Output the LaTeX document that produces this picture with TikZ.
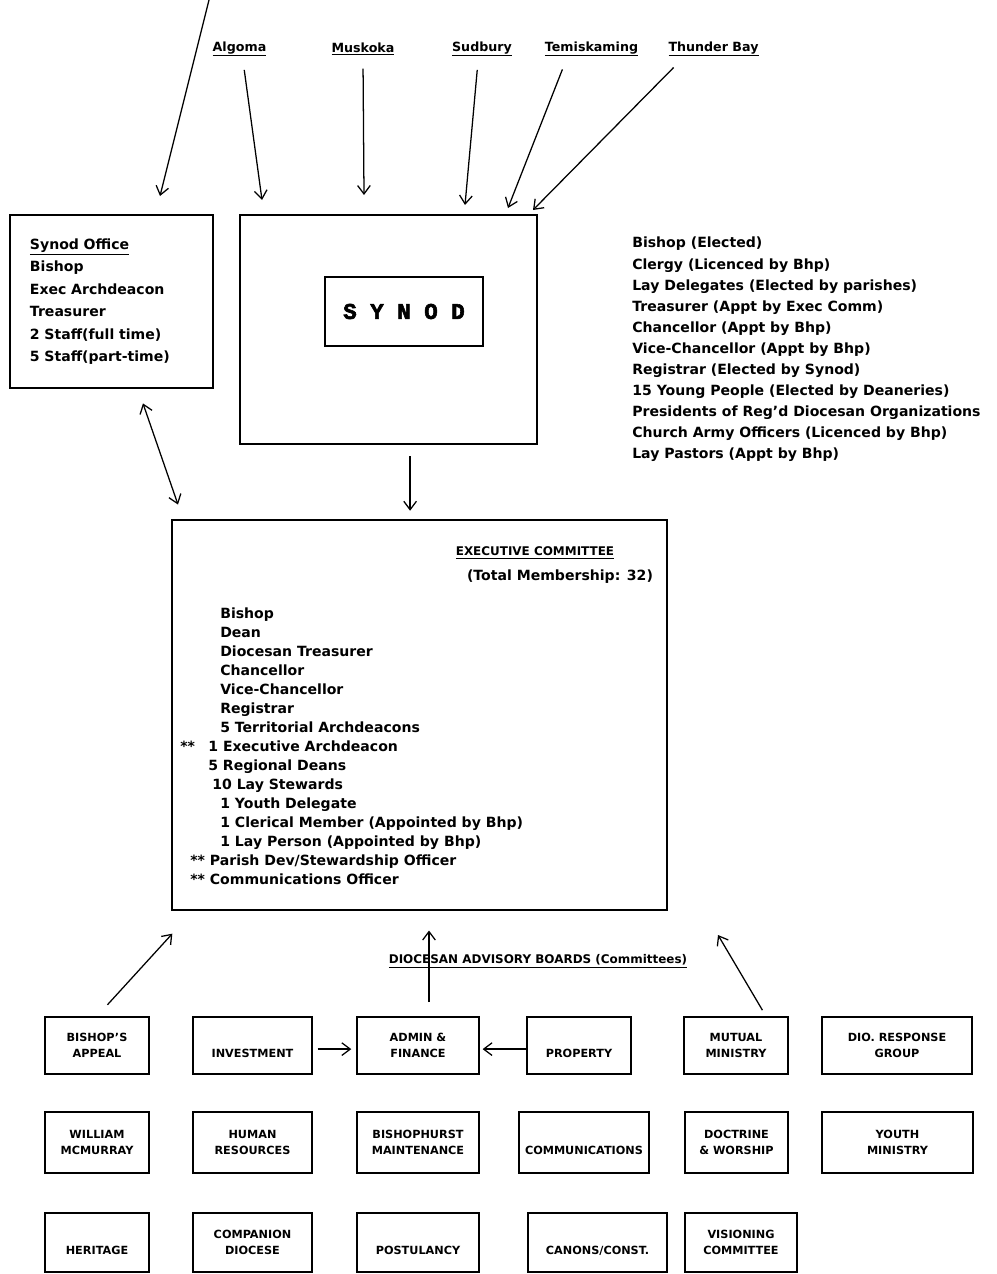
\documentclass[tikz,border=0pt]{standalone}
\usepackage{fontspec}
\setmainfont{DejaVu Sans}
\newfontfamily\synodfont{Liberation Mono}[BoldFeatures={FakeBold=2.5}]
\usetikzlibrary{arrows.meta,positioning,calc}

\tikzset{
  arr/.style={-{Straight Barb[length=6pt,width=9pt]}, line width=0.9pt},
  dblarr/.style={{Straight Barb[length=6pt,width=9pt]}-{Straight Barb[length=6pt,width=9pt]}, line width=0.9pt},
  bigbox/.style={draw, line width=1.1pt, inner sep=0pt},
  board/.style={draw, line width=1.1pt, align=center, inner sep=2pt,
    font=\fontsize{8}{11.5}\selectfont\bfseries},
  lowtext/.style={text height=17.5pt, text depth=0pt},
  deanery/.style={font=\fontsize{9}{11}\selectfont\bfseries}
}

\begin{document}
\begin{tikzpicture}[x=0.025cm, y=-0.025cm, font=\bfseries]
  \useasboundingbox (0,0) rectangle (996,1274);

  % Deaneries along the top
  \node[deanery] (algoma) at (239.5,49) {\underline{Algoma}};
  \node[deanery] (muskoka) at (363,49) {\underline{Muskoka}};
  \node[deanery] (sudbury) at (482,49) {\underline{Sudbury}};
  \node[deanery] (temiskaming) at (591.5,49) {\underline{Temiskaming}};
  \node[deanery] (thunderbay) at (713.5,49) {\underline{Thunder Bay}};

  % Synod office
  \node[bigbox, minimum height=4.325cm, text width=4.075cm, inner xsep=0.5cm, align=left,
    font=\fontsize{10}{16}\selectfont\bfseries] (office) at (111.5,301.5)
    {\underline{Synod Office}\\Bishop\\Exec Archdeacon\\Treasurer\\2 Staff(full time)\\5 Staff(part-time)};

  % Synod
  \node[bigbox, minimum width=7.425cm, minimum height=5.725cm] (synod) at (388.5,329.5) {};
  \node[bigbox, minimum width=3.95cm, minimum height=1.725cm,
    font=\synodfont\fontsize{16}{18}\selectfont\bfseries] (synodname) at (404,311.5) {S Y N O D};

  \node[anchor=north west, align=left, inner sep=0pt,
    font=\fontsize{10}{15}\selectfont\bfseries] (synodmembers) at (632,237)
    {Bishop (Elected)\\
     Clergy (Licenced by Bhp)\\
     Lay Delegates (Elected by parishes)\\
     Treasurer (Appt by Exec Comm)\\
     Chancellor (Appt by Bhp)\\
     Vice-Chancellor (Appt by Bhp)\\
     Registrar (Elected by Synod)\\
     15 Young People (Elected by Deaneries)\\
     Presidents of Reg'd Diocesan Organizations\\
     Church Army Officers (Licenced by Bhp)\\
     Lay Pastors (Appt by Bhp)};

  % Executive committee
  \node[bigbox, minimum width=12.375cm, minimum height=9.75cm] (exec) at (419.5,715) {};
  \node[font=\fontsize{8.5}{10}\selectfont\bfseries] (exectitle) at (535,553) {\underline{EXECUTIVE COMMITTEE}};
  \node[font=\fontsize{10}{12}\selectfont\bfseries] (execsize) at (560,577) {(Total Membership: 32)};
  \node[anchor=north west, align=left, inner sep=0pt,
    font=\fontsize{10}{13.5}\selectfont\bfseries] (execlist) at (180,608)
    {\hspace*{1cm}Bishop\\
     \hspace*{1cm}Dean\\
     \hspace*{1cm}Diocesan Treasurer\\
     \hspace*{1cm}Chancellor\\
     \hspace*{1cm}Vice-Chancellor\\
     \hspace*{1cm}Registrar\\
     \hspace*{1cm}5 Territorial Archdeacons\\
     **\hspace{0.6em} 1 Executive Archdeacon\\
     \hspace*{0.7cm}5 Regional Deans\\
     \hspace*{0.8cm}10 Lay Stewards\\
     \hspace*{1cm}1 Youth Delegate\\
     \hspace*{1cm}1 Clerical Member (Appointed by Bhp)\\
     \hspace*{1cm}1 Lay Person (Appointed by Bhp)\\
     \hspace*{0.25cm}** Parish Dev/Stewardship Officer\\
     \hspace*{0.25cm}** Communications Officer};

  \node[font=\fontsize{8.5}{10}\selectfont\bfseries] (boardstitle) at (538,961)
    {\underline{DIOCESAN ADVISORY BOARDS (Committees)}};

  % Boards, row 1
  \node[board, minimum width=2.6cm, minimum height=1.425cm] (appeal) at (97,1045.5) {BISHOP'S\\APPEAL};
  \node[board, lowtext, minimum width=2.975cm, minimum height=1.425cm] (investment) at (252.5,1045.5) {INVESTMENT};
  \node[board, minimum width=3.05cm, minimum height=1.425cm] (admin) at (418,1045.5) {ADMIN \&\\FINANCE};
  \node[board, lowtext, minimum width=2.6cm, minimum height=1.425cm] (property) at (579,1045.5) {PROPERTY};
  \node[board, minimum width=2.6cm, minimum height=1.425cm] (mutual) at (736,1045.5) {MUTUAL\\MINISTRY};
  \node[board, minimum width=3.75cm, minimum height=1.425cm] (response) at (897,1045.5) {DIO. RESPONSE\\GROUP};

  % Boards, row 2
  \node[board, minimum width=2.6cm, minimum height=1.525cm] (mcmurray) at (97,1142.5) {WILLIAM\\MCMURRAY};
  \node[board, minimum width=2.975cm, minimum height=1.525cm] (human) at (252.5,1142.5) {HUMAN\\RESOURCES};
  \node[board, minimum width=3.05cm, minimum height=1.525cm] (bishophurst) at (418,1142.5) {BISHOPHURST\\MAINTENANCE};
  \node[board, lowtext, minimum width=3.25cm, minimum height=1.525cm] (comms) at (584,1142.5) {COMMUNICATIONS};
  \node[board, minimum width=2.575cm, minimum height=1.525cm] (doctrine) at (736.5,1142.5) {DOCTRINE\\\& WORSHIP};
  \node[board, minimum width=3.775cm, minimum height=1.525cm] (youth) at (897.5,1142.5) {YOUTH\\MINISTRY};

  % Boards, row 3
  \node[board, lowtext, minimum width=2.6cm, minimum height=1.475cm] (heritage) at (97,1242.5) {HERITAGE};
  \node[board, minimum width=2.975cm, minimum height=1.475cm] (companion) at (252.5,1242.5) {COMPANION\\DIOCESE};
  \node[board, lowtext, minimum width=3.05cm, minimum height=1.475cm] (postulancy) at (418,1242.5) {POSTULANCY};
  \node[board, lowtext, minimum width=3.475cm, minimum height=1.475cm] (canons) at (597.5,1242.5) {CANONS/CONST.};
  \node[board, minimum width=2.8cm, minimum height=1.475cm] (visioning) at (741,1242.5) {VISIONING\\COMMITTEE};

  % free ends
  \coordinate (offpage) at (209,0);
  \coordinate (office-in) at (160,196);
  \coordinate (alg-in) at (262,200);
  \coordinate (mus-in) at (364,195);
  \coordinate (sud-in) at (465,205);
  \coordinate (tem-in) at (508,208);
  \coordinate (thb-in) at (533,210);
  \coordinate (mutual-up) at (718,935);

  % connectors
  \draw[arr] (offpage) -- (office-in);
  \draw[arr, shorten <=6pt] ([xshift=0.09cm]algoma.south) -- (alg-in);
  \draw[arr, shorten <=6pt] (muskoka.south) -- (mus-in);
  \draw[arr, shorten <=6pt] ([xshift=-0.1cm]sudbury.south) -- (sud-in);
  \draw[arr, shorten <=6pt] ([xshift=-0.65cm]temiskaming.south) -- (tem-in);
  \draw[arr, shorten <=6pt] ([xshift=-0.85cm]thunderbay.south) -- (thb-in);
  \draw[dblarr, shorten <=11pt, shorten >=11pt] ([xshift=0.66cm]office.south) -- ([xshift=-5.91cm]exec.north);
  \draw[arr, shorten <=8pt, shorten >=6pt] ([xshift=0.54cm]synod.south) -- ([xshift=0.54cm]synod.south |- exec.north);
  \draw[arr, shorten <=11pt, shorten >=22pt] (appeal.north) -- ([xshift=0.55cm]exec.south west);
  \draw[arr, shorten <=10pt, shorten >=14pt] ([xshift=0.275cm]admin.north) -- ([xshift=0.275cm]admin.north |- exec.south);
  \draw[arr, shorten <=5pt] ([xshift=0.75cm]mutual.north) -- (mutual-up);
  \draw[arr, shorten <=3.5pt, shorten >=3.5pt] ([yshift=-0.09cm]investment.east) -- ([yshift=-0.09cm]admin.west);
  \draw[arr, shorten >=2pt] ([yshift=-0.09cm]property.west) -- ([yshift=-0.09cm]admin.east);
\end{tikzpicture}
\end{document}
